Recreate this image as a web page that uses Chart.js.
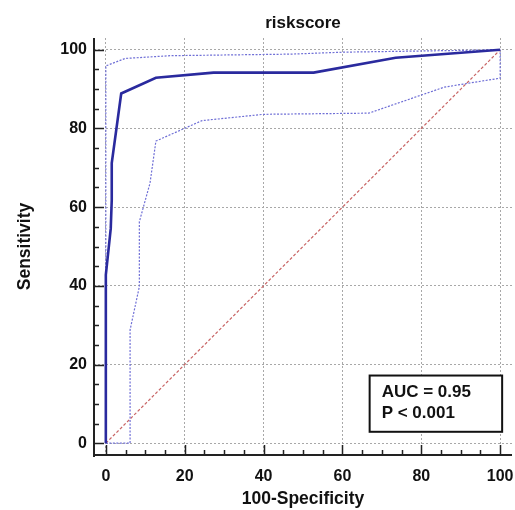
<!DOCTYPE html>
<html>
<head>
<meta charset="utf-8">
<script src="https://cdn.jsdelivr.net/npm/chart.js@4/dist/chart.umd.min.js"></script>
<style>
html,body{margin:0;padding:0;background:#fff;}
#wrap{width:515px;height:510px;}
</style>
</head>
<body>
<div id="wrap"><canvas id="c" width="515" height="510"></canvas></div>
<script>
// ---- data ----
const rocX   = [0, 0, 1.25, 1.5, 1.5, 3.9, 12.7, 27.3, 52.7, 73.5, 100];
const rocY   = [0, 42.8, 54.6, 61.8, 71.2, 88.9, 92.9, 94.2, 94.2, 98.0, 100];
const upperX = [0, 0, 4.9, 16.3, 46.8, 60.4, 100];
const upperY = [0, 95.9, 97.8, 98.5, 98.9, 99.4, 100];
const lowerX = [0, 6.15, 6.15, 8.5, 8.5, 11.2, 12.7, 24.4, 40.0, 66.7, 85.8, 100, 100];
const lowerY = [0, 0, 28.8, 39.8, 56.3, 66.1, 76.8, 82.0, 83.6, 83.9, 90.5, 92.8, 100];
const diagX  = [0, 100];
const diagY  = [0, 100];
const tickValues = [0, 20, 40, 60, 80, 100];
const minorStep = 5;
const titleText = 'riskscore';
const xTitle = '100-Specificity';
const yTitle = 'Sensitivity';
const statLines = ['AUC = 0.95', 'P < 0.001'];
const statBox = {x0: 66.9, x1: 100.5, y0: 17.2, y1: 2.9};

const pts = (xs, ys) => xs.map((x, i) => ({x: x, y: ys[i]}));
const FONT = '"Liberation Sans", Arial, sans-serif';

const axesPlugin = {
  id: 'axesPlugin',
  afterDatasetsDraw(chart) {
    const {ctx, chartArea: a, scales: {x, y}} = chart;
    ctx.save();
    ctx.strokeStyle = '#222';
    ctx.lineWidth = 2;
    ctx.setLineDash([]);
    ctx.beginPath();
    ctx.moveTo(a.left, a.top);
    ctx.lineTo(a.left, a.bottom + 2);
    ctx.moveTo(a.left, a.bottom);
    ctx.lineTo(a.right, a.bottom);
    ctx.stroke();
    ctx.lineWidth = 1.5;
    ctx.beginPath();
    for (let v = 0; v <= 100; v += minorStep) {
      const major = v % 20 === 0;
      const len = major ? 10 : 5;
      const px = Math.round(x.getPixelForValue(v)) + 0.5;
      ctx.moveTo(px, a.bottom);
      ctx.lineTo(px, a.bottom - len);
      const py = Math.round(y.getPixelForValue(v)) + 0.5;
      ctx.moveTo(a.left, py);
      ctx.lineTo(a.left + len, py);
    }
    ctx.stroke();
    ctx.restore();
  },
  afterDraw(chart) {
    const {ctx, scales: {x, y}} = chart;
    const l = x.getPixelForValue(statBox.x0), r = x.getPixelForValue(statBox.x1);
    const t = y.getPixelForValue(statBox.y0), b = y.getPixelForValue(statBox.y1);
    ctx.save();
    ctx.fillStyle = '#fff';
    ctx.fillRect(l, t, r - l, b - t);
    ctx.strokeStyle = '#111';
    ctx.lineWidth = 2;
    ctx.strokeRect(l, t, r - l, b - t);
    ctx.fillStyle = '#111';
    ctx.font = 'bold 17px ' + FONT;
    ctx.textBaseline = 'middle';
    ctx.textAlign = 'left';
    ctx.fillText(statLines[0], l + 12, t + 17);
    ctx.fillText(statLines[1], l + 12, t + 38);
    ctx.restore();
  }
};

const gridOpts = {color: '#a8a8a8', lineWidth: 1, drawTicks: false};
const tickFont = {family: FONT, size: 16, weight: 'bold'};
const titleFont = {family: FONT, size: 17.5, weight: 'bold'};

new Chart(document.getElementById('c'), {
  type: 'scatter',
  data: {
    datasets: [
      {data: pts(rocX, rocY), showLine: true, borderColor: '#2a2a9e', borderWidth: 2.6, pointRadius: 0, tension: 0},
      {data: pts(upperX, upperY), showLine: true, borderColor: '#6f6fd6', borderWidth: 1.2, borderDash: [2, 1.5], pointRadius: 0},
      {data: pts(lowerX, lowerY), showLine: true, borderColor: '#6f6fd6', borderWidth: 1.2, borderDash: [2, 1.5], pointRadius: 0},
      {data: pts(diagX, diagY), showLine: true, borderColor: '#c86464', borderWidth: 1.2, borderDash: [3, 2], pointRadius: 0}
    ]
  },
  options: {
    responsive: false,
    animation: false,
    devicePixelRatio: 1,
    layout: {padding: {left: 0, right: 3, top: 0, bottom: 0}},
    plugins: {
      legend: {display: false},
      tooltip: {enabled: false},
      title: {
        display: true, text: titleText, fullSize: false, color: '#111',
        font: {family: FONT, size: 17, weight: 'bold'},
        padding: {top: 13, bottom: 4.6}
      }
    },
    scales: {
      x: {
        type: 'linear', min: -3, max: 103,
        afterBuildTicks: s => { s.ticks = tickValues.map(v => ({value: v})); },
        afterFit: s => { s.height = 55; s.paddingLeft = 0; s.paddingRight = 0; },
        grid: gridOpts,
        border: {display: false, dash: [2, 2]},
        ticks: {font: tickFont, color: '#111', padding: 12, maxRotation: 0, autoSkip: false},
        title: {display: true, text: xTitle, color: '#111', font: titleFont, padding: {top: 0, bottom: 0.5}}
      },
      y: {
        type: 'linear', min: -3, max: 103,
        afterBuildTicks: s => { s.ticks = tickValues.map(v => ({value: v})); },
        afterFit: s => { s.width = 94; s.paddingTop = 0; s.paddingBottom = 0; },
        grid: gridOpts,
        border: {display: false, dash: [2, 2]},
        ticks: {font: tickFont, color: '#111', padding: 7, autoSkip: false},
        title: {display: true, text: yTitle, color: '#111', font: titleFont, padding: {top: 14.5, bottom: 0}}
      }
    }
  },
  plugins: [axesPlugin]
});
</script>
</body>
</html>
